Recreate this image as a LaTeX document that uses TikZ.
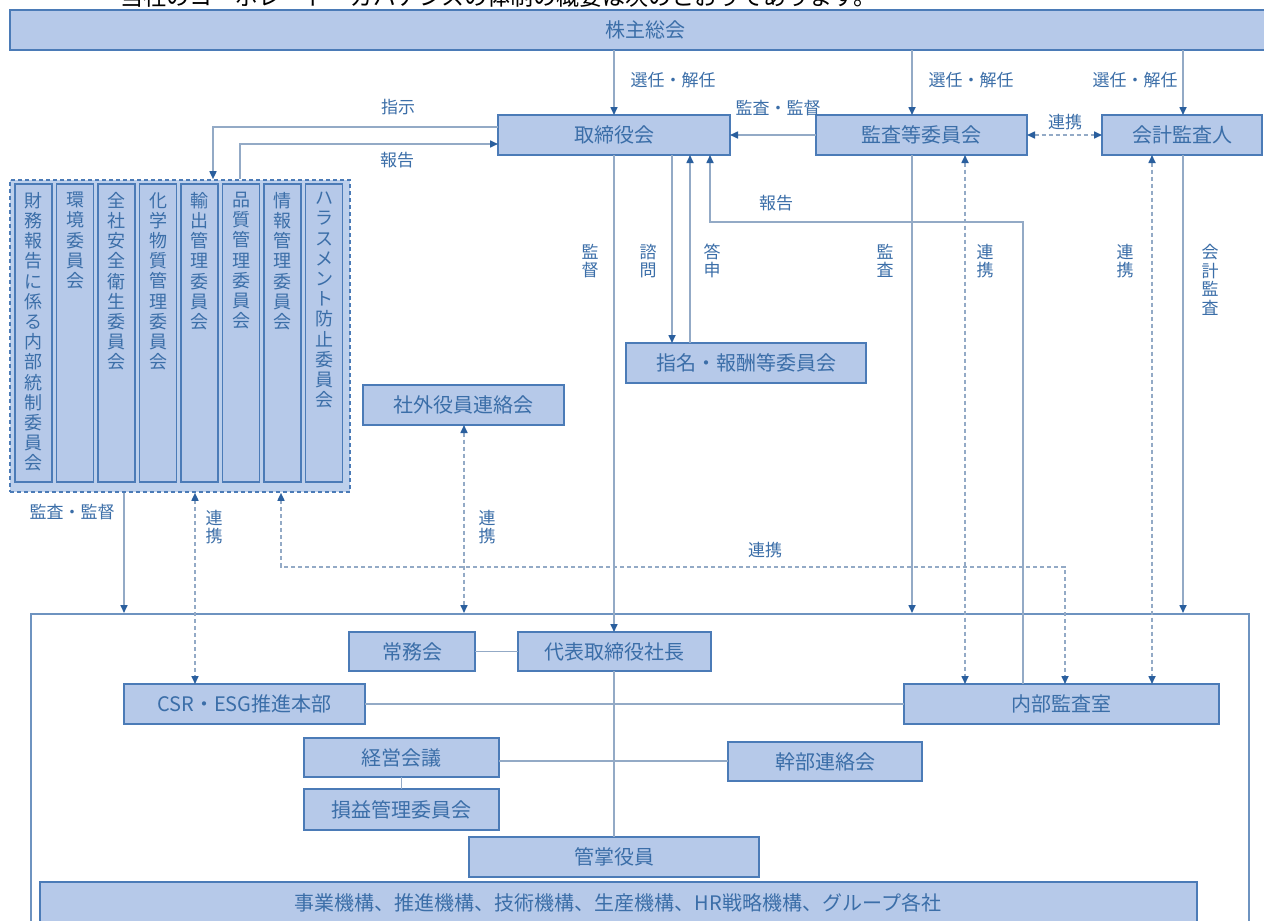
\documentclass[tikz,border=0pt]{standalone}
\usepackage{fontspec}
\setmainfont{Noto Sans CJK JP}
\usetikzlibrary{arrows.meta}
\definecolor{bfill}{HTML}{B6C9E9}
\definecolor{bdraw}{HTML}{4B7BB7}
\definecolor{btext}{HTML}{3B6EA8}
\definecolor{lcol}{HTML}{93AAC6}
\definecolor{tcol}{HTML}{2A5F9E}
\definecolor{gfill}{HTML}{BDD0EC}
\definecolor{fcol}{HTML}{6E93C0}
\newcommand\mybox[6]{\node[box,minimum width={#4-#2},minimum height={#5-#3}] (#1) at ({(#2+#4)/2},{(#3+#5)/2}) {#6};}
\begin{document}
\begin{tikzpicture}[x=1pt,y=-1pt,
  box/.style={draw=bdraw,fill=bfill,line width=1.8pt,text=btext,font=\fontsize{20}{22}\selectfont,inner sep=0pt,outer sep=0pt},
  cbox/.style={draw=bdraw,fill=bfill,line width=1.8pt,inner sep=0pt,outer sep=0pt},
  ctext/.style={text=btext,font=\fontsize{18}{20.2}\selectfont,align=center,inner sep=0pt,anchor=north},
  lbl/.style={text=btext,font=\fontsize{17}{19}\selectfont,inner sep=0pt},
  vl/.style={text=btext,font=\fontsize{17}{18.5}\selectfont,align=center,inner sep=0pt},
  conn/.style={draw=lcol,line width=1.6pt},
  tipx/.tip={Triangle[length=8pt,width=7pt,color=tcol]},
  arr/.style={conn,-tipx},
  dline/.style={conn,dash pattern=on 4pt off 3pt},
  darr/.style={dline,tipx-tipx},
  dend/.style={dline,-tipx}
]
\useasboundingbox (0,0) rectangle (1264,921);
\clip (0,0) rectangle (1264,921);
\fill[white] (0,0) rectangle (1264,921);

% heading (cut off at top)
\node[anchor=base west,inner sep=0pt,font=\fontsize{23}{23}\selectfont,text=black] (head) at (120,5) {当社のコーポレート・ガバナンスの体制の概要は次のとおりであります。};

% top bar
\node[box,minimum width=1260,minimum height=40] (sh) at (640,30) {};
\node[text=btext,font=\fontsize{20}{22}\selectfont,inner sep=0pt] (shtxt) at (645,30) {株主総会};

% upper boxes
\mybox{tori}{498}{115}{730}{155}{取締役会}
\mybox{kansa}{816}{115}{1027}{155}{監査等委員会}
\mybox{kaikei}{1102}{115}{1262}{155}{会計監査人}
\mybox{shimei}{626}{343}{866}{383}{指名・報酬等委員会}
\mybox{shagai}{363}{385}{564}{425}{社外役員連絡会}

% committee group
\node[draw=bdraw,dash pattern=on 4pt off 3pt,fill=gfill,line width=1.6pt,minimum width=340,minimum height=312,inner sep=0pt] (grp) at (180,336) {};
\node[cbox,minimum width=37,minimum height=298] (c1) at (33.5,333) {};
\node[cbox,minimum width=37,minimum height=298] (c2) at (75,333) {};
\node[cbox,minimum width=37,minimum height=298] (c3) at (116.5,333) {};
\node[cbox,minimum width=37,minimum height=298] (c4) at (158,333) {};
\node[cbox,minimum width=37,minimum height=298] (c5) at (199.5,333) {};
\node[cbox,minimum width=37,minimum height=298] (c6) at (241,333) {};
\node[cbox,minimum width=37,minimum height=298] (c7) at (282.5,333) {};
\node[cbox,minimum width=37,minimum height=298] (c8) at (324,333) {};
\node[ctext] (t1) at (33.5,192) {財\\務\\報\\告\\に\\係\\る\\内\\部\\統\\制\\委\\員\\会};
\node[ctext] (t2) at (75,192) {環\\境\\委\\員\\会};
\node[ctext] (t3) at (116.5,192) {全\\社\\安\\全\\衛\\生\\委\\員\\会};
\node[ctext] (t4) at (158,192) {化\\学\\物\\質\\管\\理\\委\\員\\会};
\node[ctext] (t5) at (199.5,192) {輸\\出\\管\\理\\委\\員\\会};
\node[ctext] (t6) at (241,192) {品\\質\\管\\理\\委\\員\\会};
\node[ctext] (t7) at (282.5,192) {情\\報\\管\\理\\委\\員\\会};
\node[ctext] (t8) at (324,192) {ハ\\ラ\\ス\\メ\\ン\\ト\\防\\止\\委\\員\\会};

% lower frame
\node[draw=fcol,line width=2pt,minimum width=1218,minimum height=340,inner sep=0pt] (frame) at (640,784) {};
\mybox{jomu}{349}{632}{475}{671}{常務会}
\mybox{daihyo}{518}{632}{711}{671}{代表取締役社長}
\mybox{csr}{124}{684}{365}{724}{CSR・ESG推進本部}
\mybox{naibu}{904}{684}{1219}{724}{内部監査室}
\mybox{keiei}{304}{738}{499}{777}{経営会議}
\mybox{kanbu}{728}{742}{922}{781}{幹部連絡会}
\mybox{soneki}{304}{789}{499}{830}{損益管理委員会}
\mybox{kansho}{469}{837}{759}{877}{管掌役員}
\mybox{jigyo}{40}{882}{1197}{924}{}
\node[text=btext,font=\fontsize{20}{22}\selectfont,inner sep=0pt] (jigyotxt) at (618,903) {事業機構、推進機構、技術機構、生産機構、HR戦略機構、グループ各社};

% connectors from 株主総会
\draw[arr] (614,0 |- sh.south) -- (614,0 |- tori.north);
\draw[arr] (912,0 |- sh.south) -- (912,0 |- kansa.north);
\draw[arr] (1183,0 |- sh.south) -- (1183,0 |- kaikei.north);
\node[lbl] (l1) at (673,80) {選任・解任};
\node[lbl] (l2) at (971,80) {選任・解任};
\node[lbl] (l3) at (1135,80) {選任・解任};

% top row links
\draw[arr] (kansa.west) -- (tori.east);
\node[lbl] (l4) at (778,108) {監査・監督};
\draw[darr] (kansa.east) -- (kaikei.west);
\node[lbl] (l5) at (1065,122) {連携};

% 指示 / 報告
\draw[arr] (tori.west |- 0,127) -- (213,127) -- (213,0 |- grp.north);
\draw[arr] (240,0 |- grp.north) -- (240,144) -- (tori.west |- 0,144);
\node[lbl] (l6) at (398,107) {指示};
\node[lbl] (l7) at (397,160) {報告};

% 取締役会 downward
\draw[arr] (614,0 |- tori.south) -- (614,0 |- daihyo.north);
\node[vl] (l8) at (590,261) {監\\督};
\draw[arr] (672,0 |- tori.south) -- (672,0 |- shimei.north);
\node[vl] (l9) at (648,261) {諮\\問};
\draw[arr] (690,0 |- shimei.north) -- (690,0 |- tori.south);
\node[vl] (l10) at (712,261) {答\\申};
\draw[arr] (1023,0 |- naibu.north) -- (1023,222) -- (710,222) -- (710,0 |- tori.south);
\node[lbl] (l11) at (776,203) {報告};

% 監査等委員会 / 会計監査人 downward
\draw[arr] (912,0 |- kansa.south) -- (912,0 |- frame.north);
\node[vl] (l12) at (885,261) {監\\査};
\draw[darr] (965,0 |- kansa.south) -- (965,0 |- naibu.north);
\node[vl] (l13) at (985,261) {連\\携};
\draw[darr] (1152,0 |- kaikei.south) -- (1152,0 |- naibu.north);
\node[vl] (l14) at (1125,261) {連\\携};
\draw[arr] (1183,0 |- kaikei.south) -- (1183,0 |- frame.north);
\node[vl] (l15) at (1210,280) {会\\計\\監\\査};

% committee group downward
\draw[arr] (124,0 |- grp.south) -- (124,0 |- frame.north);
\node[lbl] (l16) at (72,512) {監査・監督};
\draw[darr] (195,0 |- grp.south) -- (195,0 |- csr.north);
\node[vl] (l17) at (214,527) {連\\携};
\draw[darr] (281,0 |- grp.south) -- (281,567) -- (1065,567) -- (1065,0 |- naibu.north);
\node[lbl] (l18) at (765,550) {連携};
\draw[darr] (464,0 |- shagai.south) -- (464,0 |- frame.north);
\node[vl] (l19) at (487,527) {連\\携};

% inner lines
\draw[conn] (jomu.east) -- (daihyo.west);
\draw[conn] (csr.east) -- (naibu.west);
\draw[conn] (614,0 |- daihyo.south) -- (614,0 |- kansho.north);
\draw[conn] (keiei.east |- 0,761) -- (kanbu.west |- 0,761);
\draw[conn] (401.5,0 |- keiei.south) -- (401.5,0 |- soneki.north);
\end{tikzpicture}
\end{document}
